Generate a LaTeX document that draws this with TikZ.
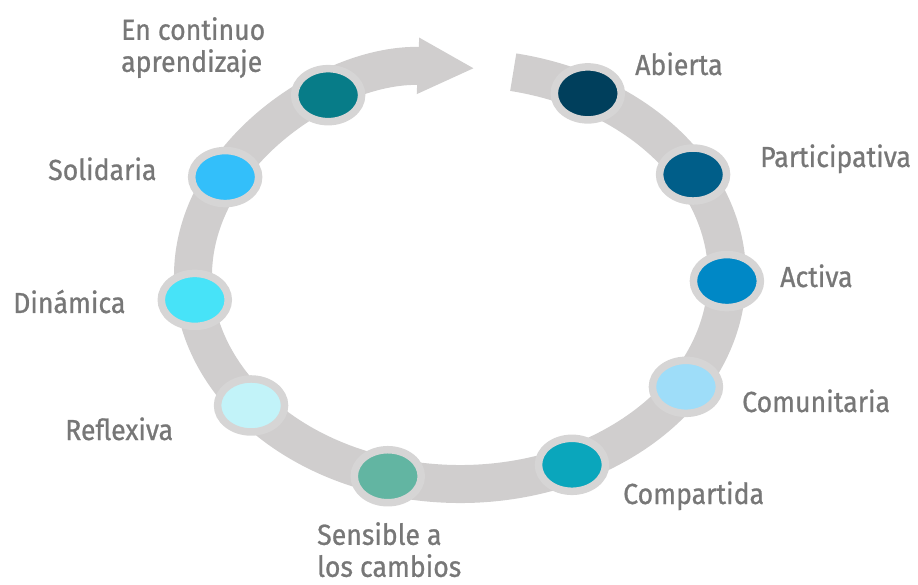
\documentclass[tikz,border=0pt]{standalone}
\usepackage{fontspec}
\setmainfont{Fira Sans}[FakeStretch=0.92,FakeBold=0.8]
\usetikzlibrary{arrows.meta,shapes.geometric,positioning}
\definecolor{anillo}{HTML}{D0CECE}
\definecolor{borde}{HTML}{D6D5D5}
\definecolor{texto}{HTML}{777777}
\definecolor{cAbierta}{HTML}{003F5C}
\definecolor{cParticipativa}{HTML}{005E89}
\definecolor{cActiva}{HTML}{0088C6}
\definecolor{cComunitaria}{HTML}{9EDDF9}
\definecolor{cCompartida}{HTML}{0AA6BC}
\definecolor{cSensible}{HTML}{62B5A2}
\definecolor{cReflexiva}{HTML}{C2F3F9}
\definecolor{cDinamica}{HTML}{47E3F8}
\definecolor{cSolidaria}{HTML}{33BFFA}
\definecolor{cContinuo}{HTML}{077C88}
\tikzset{
  anillo/.style={draw=anillo,line width=38pt},
  punto/.style={ellipse,draw=borde,line width=7.5pt,inner sep=0pt,minimum width=67pt,minimum height=53pt},
  rotulo/.style={text=texto,inner sep=0pt,align=left,font=\fontsize{29}{32}\selectfont}
}
\begin{document}
\begin{tikzpicture}[x=1pt,y=1pt]
\useasboundingbox (0,0) rectangle (918,584);

\draw[anillo,-{Triangle[length=57pt,width=52pt]}]
  ({460+267*cos(78.5)},{308+208*sin(78.5)})
  arc[start angle=78.5,end angle=-273.2,x radius=267,y radius=208];

\def\puntos{1/61.4/cAbierta,2/29.2/cParticipativa,3/-1.4/cActiva,4/-32.2/cComunitaria,5/-65.2/cCompartida,6/-105.7/cSensible,7/-141.5/cReflexiva,8/186.6/cDinamica,9/151.6/cSolidaria,10/119.6/cContinuo}
\foreach \i / \ang / \col in \puntos
  \node [punto,fill=\col] (p\i) at ({460+267*cos(\ang)},{308+208*sin(\ang)}) {};

\def\rotulos{1/{635,509}/base west/{Abierta},2/{760,417}/base west/{Participativa},3/{780,297}/base west/{Activa},4/{742,172}/base west/{Comunitaria},5/{623,80}/base west/{Compartida},6/{317,62}/north west/{Sensible a\\los cambios},7/{65,144}/base west/{Reflexiva},8/{13,271}/base west/{Dinámica},9/{48,404}/base west/{Solidaria},10/{121,567}/north west/{En continuo\\aprendizaje}}
\foreach \i / \pos / \anc / \element in \rotulos
  \node [rotulo,anchor=\anc] (l\i) at (\pos) {\element};

\end{tikzpicture}
\end{document}
